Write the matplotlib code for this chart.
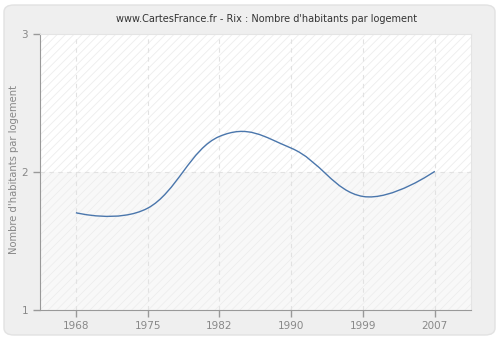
import matplotlib
matplotlib.use("Agg")
import matplotlib.pyplot as plt
from matplotlib.path import Path
from matplotlib.patches import PathPatch, FancyBboxPatch, Rectangle

years = ["1968", "1975", "1982", "1990", "1999", "2007"]
values = [1.707, 1.74, 2.26, 2.175, 1.825, 2.007]
y_ticks = [1, 2, 3]

title = "www.CartesFrance.fr - Rix : Nombre d'habitants par logement"
y_label = "Nombre d'habitants par logement"

plt.rcParams['hatch.linewidth'] = 0.6

fig = plt.figure(figsize=(5, 3.4), dpi=100)
fig.patch.set_facecolor('white')

# rounded outer panel
panel = FancyBboxPatch((4 / 500, 5 / 340), 491 / 500, 330 / 340,
                       boxstyle="round,pad=0,rounding_size=0.02",
                       transform=fig.transFigure, facecolor='#EFEFEF',
                       edgecolor='#E2E2E2', linewidth=1.0, zorder=-10)
fig.patches.append(panel)

ax = fig.add_axes([40 / 500, 29.7 / 340, 430.7 / 500, 276 / 340])
ax.set_facecolor('white')

# background bands with light hatching
ax.add_patch(Rectangle((-0.5, 1), 6, 1, facecolor='#F8F8F8', edgecolor='none', zorder=0))
ax.add_patch(Rectangle((-0.5, 1), 6, 2, facecolor='none', edgecolor='#EDEDED',
                       hatch='////', linewidth=0, zorder=0.5))

x = list(range(len(years)))

# grid
for xi in x:
    ax.axvline(xi, color='#E2E2E2', linestyle=(0, (4, 4)), linewidth=0.8, zorder=1)
ax.axhline(2, color='#E2E2E2', linestyle=(0, (4, 4)), linewidth=0.8, zorder=1)

# spline through the points (bezier control points, smoothing 1.5)
s = 1.5
verts = [(x[0], values[0])]
codes = [Path.MOVETO]
ctrl = []
for i in range(len(x)):
    if 0 < i < len(x) - 1:
        lx = (s * x[i] + x[i - 1]) / (s + 1)
        ly = (s * values[i] + values[i - 1]) / (s + 1)
        rx = (s * x[i] + x[i + 1]) / (s + 1)
        ry = (s * values[i] + values[i + 1]) / (s + 1)
        corr = (ry - ly) * (rx - x[i]) / (rx - lx) + values[i] - ry
        ctrl.append(((lx, ly + corr), (rx, ry + corr)))
    else:
        ctrl.append(((x[i], values[i]), (x[i], values[i])))
for i in range(1, len(x)):
    verts += [ctrl[i - 1][1], ctrl[i][0], (x[i], values[i])]
    codes += [Path.CURVE4] * 3
ax.add_patch(PathPatch(Path(verts, codes), facecolor='none', edgecolor='#4A76AC',
                       linewidth=1.0, zorder=3))

ax.set_xlim(-0.5, 5.5)
ax.set_ylim(1, 3)
ax.set_xticks(x)
ax.set_xticklabels(years)
ax.set_yticks(y_ticks)

for side in ['top', 'right']:
    ax.spines[side].set_color('#E4E4E4')
for side in ['left', 'bottom']:
    ax.spines[side].set_color('#999999')
ax.tick_params(axis='both', colors='#999999', labelcolor='#888888', labelsize=7.5,
               length=5, width=1)
ax.tick_params(axis='x', pad=3)

fig.text(14 / 500, 0.5, y_label, rotation=90, ha='center', va='center',
         color='#888888', fontsize=7.2)

fig.text(267 / 500, 1 - 19 / 340, title, ha='center', va='center', fontsize=7,
         color='#333333')

fig.savefig('out.png', dpi=100)
